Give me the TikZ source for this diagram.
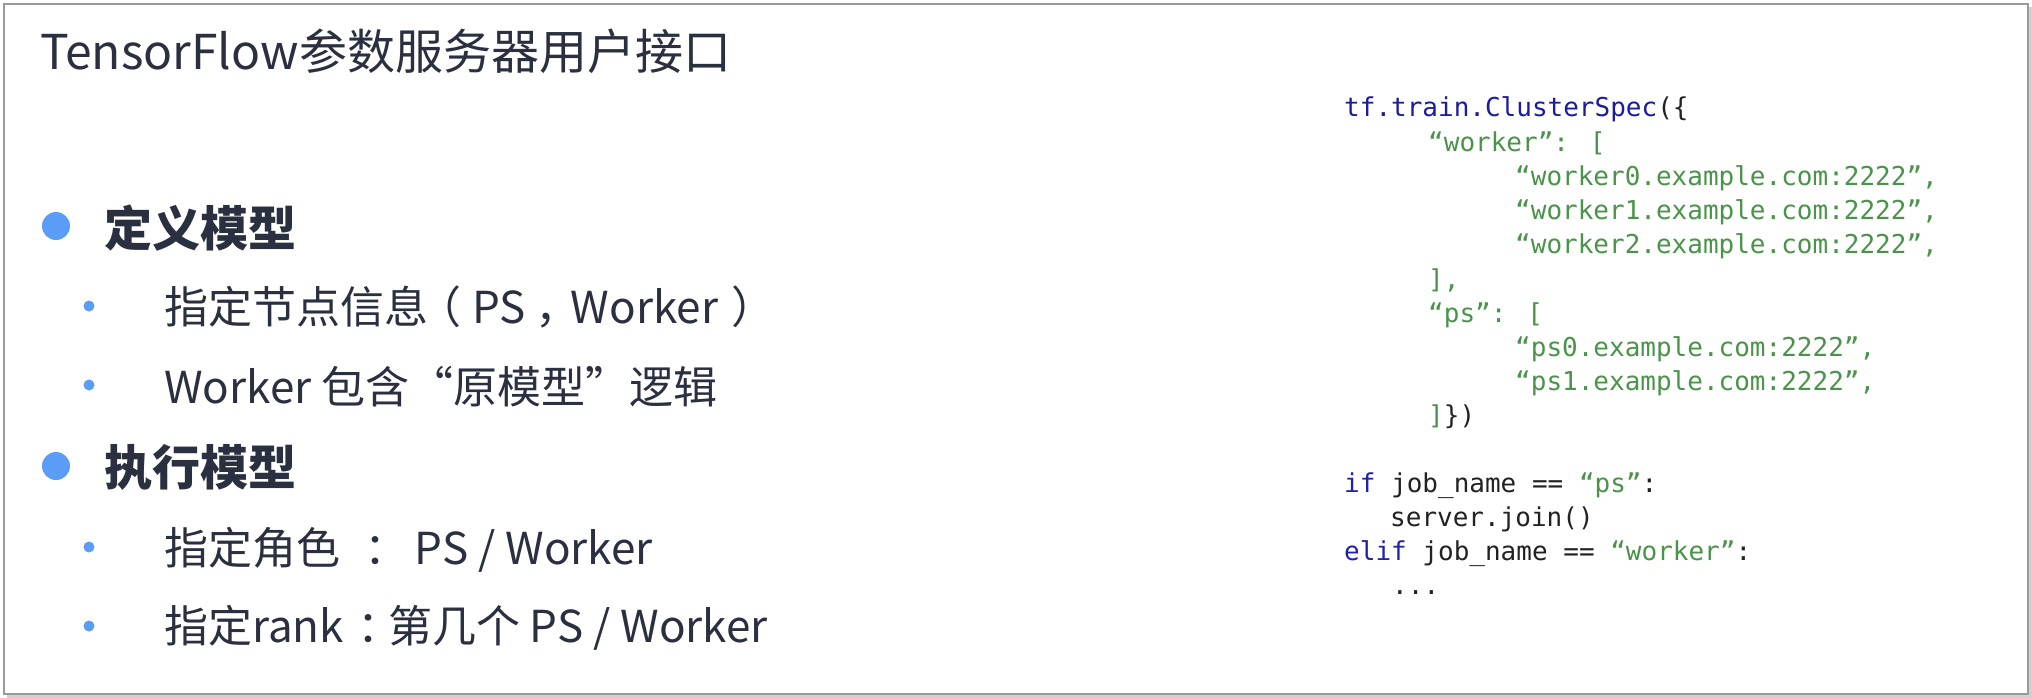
\documentclass[tikz,border=0pt]{standalone}
\usepackage{fontspec}
\setmainfont{Noto Sans CJK SC}
\newfontfamily\codefont{DejaVu Sans Mono}
\definecolor{txt}{HTML}{2A3040}
\definecolor{bul}{HTML}{5B9CF6}
\definecolor{navy}{HTML}{1C1C9C}
\definecolor{kw}{HTML}{2222A8}
\definecolor{str}{HTML}{4A944A}
\definecolor{codeblk}{HTML}{222222}
\definecolor{frame}{HTML}{9A9A9A}
\begin{document}
\begin{tikzpicture}[x=1pt,y=-1pt,
  title/.style={anchor=base west,inner sep=0pt,text=txt,font=\fontsize{48}{56}\selectfont},
  head/.style={anchor=base west,inner sep=0pt,text=txt,font=\fontsize{48}{56}\selectfont\bfseries},
  body/.style={anchor=base west,inner sep=0pt,text=txt,font=\fontsize{44}{50}\selectfont},
  bigdot/.style={circle,fill=bul,inner sep=0pt,minimum size=28pt},
  smalldot/.style={circle,fill=bul,inner sep=0pt,minimum size=11pt},
  code/.style={anchor=base west,inner sep=0pt,text=codeblk,font=\codefont\fontsize{26}{30}\selectfont}]
\fill[white] (0,0) rectangle (2032,698);
\useasboundingbox (0,0) rectangle (2032,698);
% frame with shadow
\draw[line width=4pt,black!18] (7,696) -- (2030,696) -- (2030,7);
\draw[line width=2pt,frame] (4,4) rectangle (2028,694);
% title
\node[title] (t) at (40,70) {TensorFlow参数服务器用户接口};
% bullets
\node[bigdot] (b1) at (56,226) {};
\node[head] (h1) at (104,246) {定义模型};
\node[smalldot] (s1) at (89,306) {};
\node[body] (l1) at (164,323) {指定节点信息\hspace{-0.25em}（\hspace{0.25em}PS ，\hspace{-0.2em}Worker\hspace{0.3em}）};
\node[smalldot] (s2) at (89,385) {};
\node[body] (l2) at (164,403) {Worker 包含“原模型”逻辑};
\node[bigdot] (b2) at (56,466) {};
\node[head] (h2) at (104,485) {执行模型};
\node[smalldot] (s3) at (89,547) {};
\node[body] (l3) at (164,564) {指定角色\hspace{0.55em}：\hspace{0.15em}PS / Worker};
\node[smalldot] (s4) at (89,626) {};
\node[body] (l4) at (164,642) {指定rank\hspace{0.3em}：\hspace{-0.3em}第几个 PS / Worker};
% code
\node[code] (c1) at (1344,117) {\textcolor{navy}{tf.train.ClusterSpec}(\{};
\node[code,text=str] (c2) at (1428,151) {“worker”: [};
\node[code,text=str] (c3) at (1515,185) {“worker0.example.com:2222”,};
\node[code,text=str] (c4) at (1515,219) {“worker1.example.com:2222”,};
\node[code,text=str] (c5) at (1515,253) {“worker2.example.com:2222”,};
\node[code,text=str] (c6) at (1428,288) {],};
\node[code,text=str] (c7) at (1428,322) {“ps”: [};
\node[code,text=str] (c8) at (1515,356) {“ps0.example.com:2222”,};
\node[code,text=str] (c9) at (1515,390) {“ps1.example.com:2222”,};
\node[code] (c10) at (1428,424) {\textcolor{str}{]}\})};
\node[code] (c11) at (1344,492) {\textcolor{kw}{if} job\_name == \textcolor{str}{“ps”}:};
\node[code] (c12) at (1390,526) {server.join()};
\node[code] (c13) at (1344,560) {\textcolor{kw}{elif} job\_name == \textcolor{str}{“worker”}:};
\node[code] (c14) at (1392,594) {...};
\end{tikzpicture}
\end{document}
